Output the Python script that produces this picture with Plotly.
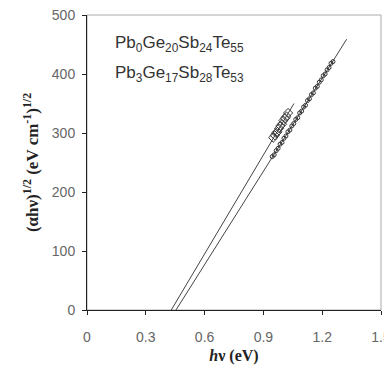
import plotly.graph_objects as go

# Tauc plot data
fit0_x = [0.43, 1.056]
fit0_y = [0, 350]
fit3_x = [0.454, 1.325]
fit3_y = [0, 459]

pb0_x = [0.950, 0.958, 0.965, 0.972, 0.980, 0.987, 0.995, 1.002, 1.010, 1.018, 1.026]
pb0_y = [292, 296, 300, 302, 308, 312, 315, 321, 325, 328, 334]

pb3_x = [0.945, 0.955, 0.965, 0.975, 0.985, 0.995, 1.005, 1.015, 1.025, 1.035, 1.045,
         1.055, 1.065, 1.075, 1.085, 1.095, 1.105, 1.115, 1.125, 1.135, 1.145, 1.155,
         1.165, 1.175, 1.185, 1.195, 1.205, 1.215, 1.225, 1.235, 1.245, 1.255]
pb3_y = [260, 263, 270, 274, 281, 284, 291, 295, 302, 305, 312, 316, 323, 326, 334, 337,
         344, 347, 355, 358, 365, 368, 376, 379, 386, 390, 397, 400, 407, 411, 418, 421]

x_ticks = [0, 0.3, 0.6, 0.9, 1.2, 1.5]
y_ticks = [0, 100, 200, 300, 400, 500]
labels = ["Pb<sub>0</sub>Ge<sub>20</sub>Sb<sub>24</sub>Te<sub>55</sub>",
          "Pb<sub>3</sub>Ge<sub>17</sub>Sb<sub>28</sub>Te<sub>53</sub>"]

line_col = "#444444"
fig = go.Figure()
fig.add_trace(go.Scatter(x=fit0_x, y=fit0_y, mode="lines",
                         line=dict(color=line_col, width=1), showlegend=False))
fig.add_trace(go.Scatter(x=fit3_x, y=fit3_y, mode="lines",
                         line=dict(color=line_col, width=1), showlegend=False))
fig.add_trace(go.Scatter(x=pb0_x, y=pb0_y, mode="markers",
                         marker=dict(symbol="diamond-open", size=7, color="#333333",
                                     line=dict(width=1)), showlegend=False))
fig.add_trace(go.Scatter(x=pb3_x, y=pb3_y, mode="markers",
                         marker=dict(symbol="circle-open", size=4, color="#333333",
                                     line=dict(width=1)), showlegend=False))

for i, t in enumerate(labels):
    fig.add_annotation(x=0.09, y=0.9 - i * 0.1, xref="paper", yref="paper",
                       text=t, showarrow=False, xanchor="left", yanchor="middle",
                       font=dict(family="Liberation Sans", size=17, color="#333333"))

fig.add_shape(type="rect", xref="paper", yref="paper", x0=0, y0=0, x1=1, y1=1,
              line=dict(color="#aaaaaa", width=1), layer="below")

fig.update_layout(
    width=392, height=375,
    margin=dict(l=79, r=19, t=7, b=73, autoexpand=False),
    paper_bgcolor="white", plot_bgcolor="white",
    xaxis=dict(range=[0, 1.5], tickvals=x_ticks, ticktext=["0", "0.3", "0.6", "0.9", "1.2", "1.5"],
               automargin=False, ticklabeloverflow="allow",
               showgrid=False, zeroline=False, showline=True, linecolor="#222222", linewidth=1,
               ticks="outside", ticklen=4, tickcolor="#222222",
               ticklabelstandoff=10,
               tickfont=dict(family="Liberation Sans", size=14, color="#666666"),
               title=dict(text="<b><i>h</i>ν (eV)</b>", standoff=6,
                          font=dict(family="Liberation Serif", size=16, color="#222222"))),
    yaxis=dict(range=[0, 500], tickvals=y_ticks, automargin=False, ticklabeloverflow="allow",
               showgrid=False, zeroline=False, showline=True, linecolor="#222222", linewidth=1,
               ticks="outside", ticklen=4, tickcolor="#222222",
               ticklabelstandoff=4,
               tickfont=dict(family="Liberation Sans", size=14, color="#666666"),
               title=dict(text="<b>(αhν)<sup>1/2</sup> (eV cm<sup>-1</sup>)<sup>1/2</sup></b>",
                          standoff=8,
                          font=dict(family="Liberation Serif", size=17, color="#222222"))),
)

fig.write_html("out.html")
